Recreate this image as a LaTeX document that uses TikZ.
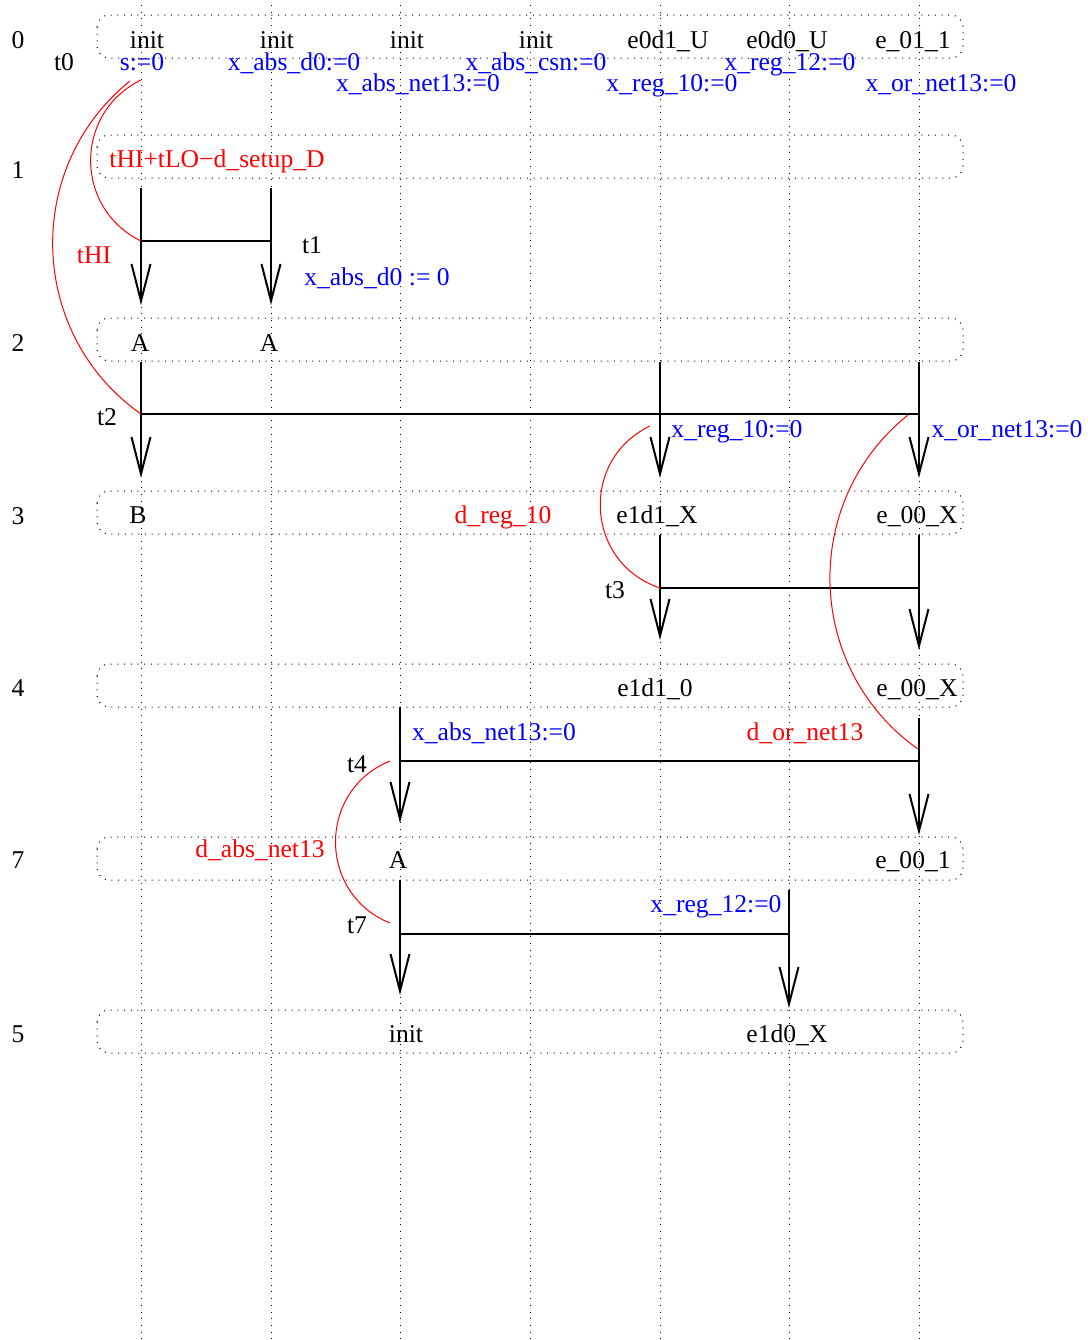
\documentclass[tikz,border=0pt]{standalone}
\usepackage{fontspec}
\setmainfont{Liberation Serif}
\usetikzlibrary{arrows.meta}

\tikzset{
  grid/.style={line width=0.5pt,dash pattern=on 0.5pt off 2.85pt},
  rowbox/.style={grid,rounded corners=6pt},
  bar/.style={line width=1pt},
  fire/.style={bar,-{Straight Barb[length=18.5pt,width=9.5pt]}},
  delay/.style={red,line width=0.5pt},
  lbl/.style={anchor=base,inner sep=0pt},
  reset/.style={lbl,blue},
  bound/.style={lbl,red},
}

\begin{document}
\begin{tikzpicture}[x=0.5pt,y=-0.5pt,font=\fontsize{12.8pt}{15pt}\selectfont]
  \useasboundingbox (0,0) rectangle (1088,1340);
  % process columns
  \foreach \x in {141,271,400,530,660,789,919}
    \draw[grid] (\x,5) -- (\x,1340);
  % rows of the graph
  \draw[rowbox] (97,15) rectangle (963,58);
  \draw[rowbox] (97,135) rectangle (963,178);
  \draw[rowbox] (97,318) rectangle (963,361);
  \draw[rowbox] (97,491) rectangle (963,534);
  \draw[rowbox] (97,664) rectangle (963,707);
  \draw[rowbox] (97,837) rectangle (963,880);
  \draw[rowbox] (97,1010) rectangle (963,1053);
  \node[lbl] (r0) at (18,48) {0};
  \node[lbl] (r1) at (18,178) {1};
  \node[lbl] (r2) at (18,351) {2};
  \node[lbl] (r3) at (18,524) {3};
  \node[lbl] (r4) at (18,696) {4};
  \node[lbl] (r7) at (18,868) {7};
  \node[lbl] (r5) at (18,1042) {5};

  % row 0
  \node[lbl] (s0a) at (147,48) {init};
  \node[lbl] (s0b) at (277,48) {init};
  \node[lbl] (s0c) at (407,48) {init};
  \node[lbl] (s0d) at (536,48) {init};
  \node[lbl] (s0e) at (668,48) {e0d1\_U};
  \node[lbl] (s0f) at (787,48) {e0d0\_U};
  \node[lbl] (s0g) at (913,48) {e\_01\_1};
  \node[lbl] (t0) at (64,70) {t0};
  \node[reset] (x0a) at (142,70) {s:=0};
  \node[reset] (x0b) at (294,70) {x\_abs\_d0:=0};
  \node[reset] (x0c) at (418,91) {x\_abs\_net13:=0};
  \node[reset] (x0d) at (536,70) {x\_abs\_csn:=0};
  \node[reset] (x0e) at (672,91) {x\_reg\_10:=0};
  \node[reset] (x0f) at (790,70) {x\_reg\_12:=0};
  \node[reset] (x0g) at (941,91) {x\_or\_net13:=0};
  \coordinate (o0) at (130,81);
  \coordinate (o1) at (141,80);

  % row 1 and t1
  \node[bound] (b1) at (217,167) {tHI+tLO\textminus d\_setup\_D};
  \coordinate (t1a) at (141,241);
  \coordinate (t1b) at (271,241);
  \draw[bar] (t1a) -- (t1b);
  \draw[fire] (141,188) -- (141,305);
  \draw[fire] (271,188) -- (271,305);
  \node[lbl] (t1) at (312,253) {t1};
  \node[reset] (x1) at (377,285) {x\_abs\_d0 := 0};
  \node[bound] (b0) at (94,263) {tHI};

  % row 2 and t2
  \node[lbl] (s2a) at (140,351) {A};
  \node[lbl] (s2b) at (269,351) {A};
  \coordinate (t2a) at (141,414);
  \coordinate (t2e) at (660,414);
  \coordinate (t2g) at (919,414);
  \draw[bar] (t2a) -- (t2g);
  \draw[fire] (141,362) -- (141,478);
  \draw[fire] (660,362) -- (660,478);
  \draw[fire] (919,362) -- (919,478);
  \node[lbl] (t2) at (107,425) {t2};
  \node[reset] (x2e) at (737,437) {x\_reg\_10:=0};
  \node[reset] (x2g) at (1007,437) {x\_or\_net13:=0};
  \coordinate (o2e) at (650,426);
  \coordinate (o2g) at (908,415);

  % row 3 and t3
  \node[lbl] (s3a) at (138,523) {B};
  \node[bound] (b2) at (503,523) {d\_reg\_10};
  \node[lbl] (s3e) at (657,523) {e1d1\_X};
  \node[lbl] (s3g) at (917,523) {e\_00\_X};
  \coordinate (t3e) at (660,588);
  \coordinate (t3g) at (919,588);
  \draw[bar] (t3e) -- (t3g);
  \draw[fire] (660,535) -- (660,640);
  \draw[fire] (919,535) -- (919,650);
  \node[lbl] (t3) at (615,598) {t3};

  % row 4 and t4
  \node[lbl] (s4e) at (655,696) {e1d1\_0};
  \node[lbl] (s4g) at (917,696) {e\_00\_X};
  \coordinate (t4c) at (400,761);
  \coordinate (t4g) at (919,761);
  \draw[bar] (t4c) -- (t4g);
  \draw[fire] (400,707) -- (400,823);
  \draw[fire] (919,718) -- (919,835);
  \node[lbl] (t4) at (357,772) {t4};
  \node[reset] (x4c) at (494,740) {x\_abs\_net13:=0};
  \node[bound] (b3) at (805,740) {d\_or\_net13};
  \coordinate (o4c) at (390,761);
  \coordinate (e4g) at (918,749);

  % row 7 and t7
  \node[bound] (b4) at (260,857) {d\_abs\_net13};
  \node[lbl] (s7c) at (398,868) {A};
  \node[lbl] (s7g) at (913,868) {e\_00\_1};
  \coordinate (t7c) at (400,934);
  \coordinate (t7f) at (789,934);
  \draw[bar] (t7c) -- (t7f);
  \draw[fire] (400,880) -- (400,995);
  \draw[fire] (789,890) -- (789,1008);
  \node[lbl] (t7) at (357,933) {t7};
  \node[reset] (x7f) at (716,912) {x\_reg\_12:=0};
  \coordinate (e7c) at (390,923);

  % row 5
  \node[lbl] (s5c) at (406,1042) {init};
  \node[lbl] (s5f) at (787,1042) {e1d0\_X};

  % timing bounds
  \draw[delay] (o1) to[bend right=64,looseness=1.19] (t1a);
  \draw[delay] (o0) to[bend right=53,looseness=1.06] (t2a);
  \draw[delay] (o2e) to[bend right=68,looseness=1.24] (t3e);
  \draw[delay] (o2g) to[bend right=53,looseness=1.06] (e4g);
  \draw[delay] (o4c) to[bend right=68,looseness=1.24] (e7c);
\end{tikzpicture}
\end{document}
